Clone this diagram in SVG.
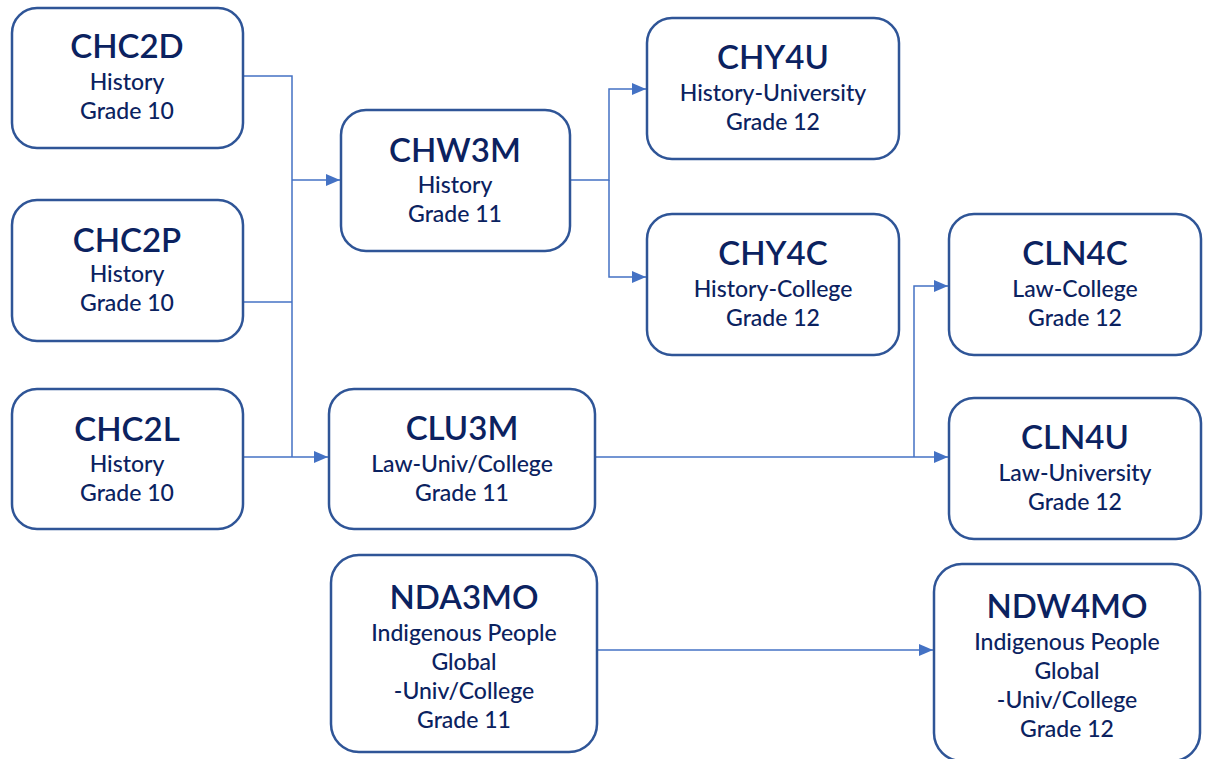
<svg xmlns="http://www.w3.org/2000/svg" width="1206" height="759" viewBox="0 0 1206 759">
<style>
.box{fill:#fff;stroke:#2f5597;stroke-width:2.5}
.t{font-family:Lato,"Open Sans",sans-serif;fill:#0b2260;text-anchor:middle}
.h{font-size:33px;font-weight:600}
.s{font-size:23px;font-weight:500}
.c{fill:none;stroke:#4472c4;stroke-width:1.5}
</style>
<defs>
<marker id="a" viewBox="0 0 14 12" refX="14" refY="6" markerWidth="14" markerHeight="12" markerUnits="userSpaceOnUse" orient="auto">
<path d="M0,0 L14,6 L0,12 z" fill="#4472c4"/>
</marker>
</defs>
<rect width="1206" height="759" fill="#fff"/>
<g id="connectors">
<path class="c" d="M243,76 H292 V457"/>
<path class="c" d="M243,302 H292"/>
<path class="c" d="M292,180 H340" marker-end="url(#a)"/>
<path class="c" d="M243,457 H328" marker-end="url(#a)"/>
<path class="c" d="M570,180 H609 V89 H646" marker-end="url(#a)"/>
<path class="c" d="M609,180 V277 H646" marker-end="url(#a)"/>
<path class="c" d="M595,457 H948" marker-end="url(#a)"/>
<path class="c" d="M914,457 V286 H948" marker-end="url(#a)"/>
<path class="c" d="M597,650 H933" marker-end="url(#a)"/>
</g>
<g id="CHC2D"><rect class="box" x="12" y="8" width="231" height="140" rx="25"/>
<text class="t h" x="127" y="58">CHC2D</text><text class="t s" x="127" y="90">History</text><text class="t s" x="127" y="119">Grade 10</text></g>
<g id="CHC2P"><rect class="box" x="12" y="200" width="231" height="141" rx="25"/>
<text class="t h" x="127" y="252">CHC2P</text><text class="t s" x="127" y="282">History</text><text class="t s" x="127" y="311">Grade 10</text></g>
<g id="CHC2L"><rect class="box" x="12" y="389" width="231" height="140" rx="25"/>
<text class="t h" x="127" y="441">CHC2L</text><text class="t s" x="127" y="472">History</text><text class="t s" x="127" y="501">Grade 10</text></g>
<g id="CHW3M"><rect class="box" x="341" y="110" width="229" height="141" rx="25"/>
<text class="t h" x="455" y="162">CHW3M</text><text class="t s" x="455" y="193">History</text><text class="t s" x="455" y="222">Grade 11</text></g>
<g id="CLU3M"><rect class="box" x="329" y="389" width="266" height="140" rx="25"/>
<text class="t h" x="462" y="440">CLU3M</text><text class="t s" x="462" y="472">Law-Univ/College</text><text class="t s" x="462" y="501">Grade 11</text></g>
<g id="NDA3MO"><rect class="box" x="331" y="555" width="266" height="197" rx="28"/>
<text class="t h" x="464" y="609">NDA3MO</text><text class="t s" x="464" y="641">Indigenous People</text><text class="t s" x="464" y="670">Global</text><text class="t s" x="464" y="699">-Univ/College</text><text class="t s" x="464" y="728">Grade 11</text></g>
<g id="CHY4U"><rect class="box" x="647" y="18" width="252" height="141" rx="25"/>
<text class="t h" x="773" y="69">CHY4U</text><text class="t s" x="773" y="101">History-University</text><text class="t s" x="773" y="130">Grade 12</text></g>
<g id="CHY4C"><rect class="box" x="647" y="214" width="252" height="141" rx="25"/>
<text class="t h" x="773" y="265">CHY4C</text><text class="t s" x="773" y="297">History-College</text><text class="t s" x="773" y="326">Grade 12</text></g>
<g id="CLN4C"><rect class="box" x="949" y="214" width="252" height="141" rx="25"/>
<text class="t h" x="1075" y="265">CLN4C</text><text class="t s" x="1075" y="297">Law-College</text><text class="t s" x="1075" y="326">Grade 12</text></g>
<g id="CLN4U"><rect class="box" x="949" y="398" width="252" height="141" rx="25"/>
<text class="t h" x="1075" y="449">CLN4U</text><text class="t s" x="1075" y="481">Law-University</text><text class="t s" x="1075" y="510">Grade 12</text></g>
<g id="NDW4MO"><rect class="box" x="934" y="564" width="266" height="197" rx="28"/>
<text class="t h" x="1067" y="618">NDW4MO</text><text class="t s" x="1067" y="650">Indigenous People</text><text class="t s" x="1067" y="679">Global</text><text class="t s" x="1067" y="708">-Univ/College</text><text class="t s" x="1067" y="737">Grade 12</text></g>
</svg>
